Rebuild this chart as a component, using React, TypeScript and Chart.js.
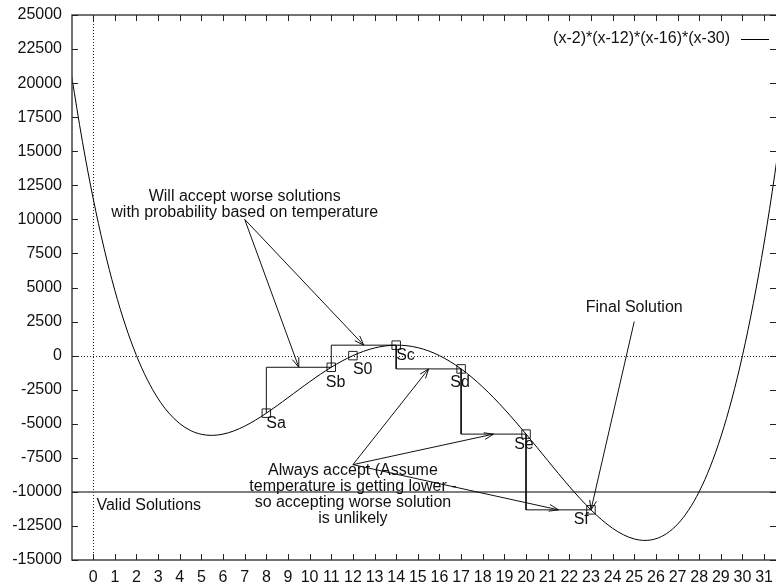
import React, { useEffect, useRef } from "react";
import { Chart, registerables } from "chart.js";

Chart.register(...registerables);

// ---- data ----
const curveX = [-1, -0.5, 0, 0.5, 1, 1.5, 2, 2.5, 3, 3.5, 4, 4.5, 5, 5.5, 6, 6.5, 7, 7.5, 8, 8.5, 9, 9.5, 10, 10.5, 11, 11.5, 12, 12.5, 13, 13.5, 14, 14.5, 15, 15.5, 16, 16.5, 17, 17.5, 18, 18.5, 19, 19.5, 20, 20.5, 21, 21.5, 22, 22.5, 23, 23.5, 24, 24.5, 25, 25.5, 26, 26.5, 27, 27.5, 28, 28.5, 29, 29.5, 30, 30.5, 31, 31.5, 32];
const curveY = [20553, 15726.6, 11520, 7887.6, 4785, 2169.6, 0, -1763.4, -3159, -4223.4, -4992, -5498.4, -5775, -5852.4, -5760, -5525.4, -5175, -4733.4, -4224, -3668.4, -3087, -2498.4, -1920, -1367.4, -855, -395.4, 0, 321.6, 561, 711.6, 768, 726.6, 585, 342.6, 0, -440.4, -975, -1598.4, -2304, -3083.4, -3927, -4823.4, -5760, -6722.4, -7695, -8660.4, -9600, -10493.4, -11319, -12053.4, -12672, -13148.4, -13455, -13562.4, -13440, -13055.4, -12375, -11363.4, -9984, -8198.4, -5967, -3248.4, 0, 3822.6, 8265, 13374.6, 19200];
const seriesLabel = "(x-2)*(x-12)*(x-16)*(x-30)";

const stateNames = ["Sa", "Sb", "S0", "Sc", "Sd", "Se", "Sf"];
const stateX = [8, 11, 12, 14, 17, 20, 23];
const stateY = [-4224, -855, 0, 768, -975, -5760, -11319];
const stateLabelX = [8, 10.75, 12, 14, 16.5, 19.45, 22.2];
const stateLabelY = [-5000, -2000, -1000, 0, -2000, -6500, -12000];

const moveFromX = [8, 11, 14, 17, 20];
const moveFromY = [-4224, -855, 768, -975, -5760];
const moveToX = [11, 14, 17, 20, 23];
const moveToY = [-855, 768, -975, -5760, -11319];

const arrowFromX = [7, 7, 12, 12, 12, 25];
const arrowFromY = [10000, 10000, -8000, -8000, -8000, 2500];
const arrowToX = [9.5, 12.5, 15.5, 18.5, 21.5, 23];
const arrowToY = [-855, 768, -975, -5760, -11319, -11319];

const noteWill = ["Will accept worse solutions", "with probability based on temperature"];
const noteWillPos = [7, 11100];
const noteAlways = ["Always accept (Assume", "temperature is getting lower -", "so accepting worse solution", "is unlikely"];
const noteAlwaysPos = [12, -10230];
const noteFinal = "Final Solution";
const noteFinalPos = [25, 3500];
const noteValid = "Valid Solutions";
const noteValidPos = [0.15, -11000];
const thresholdY = -10000;

const xMin = -0.98;
const xMax = 31.55;
const xStep = 1;
const yMin = -15000;
const yMax = 25000;
const yStep = 2500;

const FONT_FAMILY = '"Liberation Sans", Arial, Helvetica, sans-serif';
const FONT = "16px " + FONT_FAMILY;

function drawArrowHead(ctx: CanvasRenderingContext2D, x0: number, y0: number, x1: number, y1: number) {
  const ang = Math.atan2(y1 - y0, x1 - x0);
  const len = 10;
  const spread = (20 * Math.PI) / 180;
  ctx.beginPath();
  ctx.moveTo(x1 - len * Math.cos(ang - spread), y1 - len * Math.sin(ang - spread));
  ctx.lineTo(x1, y1);
  ctx.lineTo(x1 - len * Math.cos(ang + spread), y1 - len * Math.sin(ang + spread));
  ctx.stroke();
}

const underlay = {
  id: "underlay",
  beforeDatasetsDraw(chart: any) {
    const { ctx, chartArea: ca, scales } = chart;
    const px = (v: number) => scales.x.getPixelForValue(v);
    const py = (v: number) => scales.y.getPixelForValue(v);
    ctx.save();
    ctx.strokeStyle = "#222";
    ctx.lineWidth = 1;
    ctx.setLineDash([1, 2]);
    ctx.beginPath();
    const zx = Math.round(px(0)) + 0.5;
    const zy = Math.round(py(0)) + 0.5;
    ctx.moveTo(zx, ca.top);
    ctx.lineTo(zx, ca.bottom);
    ctx.moveTo(ca.left, zy);
    ctx.lineTo(ca.right, zy);
    ctx.stroke();
    ctx.setLineDash([]);
    // threshold line
    ctx.strokeStyle = "#555";
    ctx.lineWidth = 1.5;
    ctx.beginPath();
    ctx.moveTo(ca.left, py(thresholdY));
    ctx.lineTo(ca.right, py(thresholdY));
    ctx.stroke();
    ctx.restore();
  },
  afterDatasetsDraw(chart: any) {
    const { ctx, chartArea: ca, scales } = chart;
    const px = (v: number) => scales.x.getPixelForValue(v);
    const py = (v: number) => scales.y.getPixelForValue(v);
    ctx.save();
    // border
    ctx.strokeStyle = "#444";
    ctx.lineWidth = 1.5;
    ctx.beginPath();
    ctx.moveTo(ca.right, ca.top);
    ctx.lineTo(ca.left, ca.top);
    ctx.lineTo(ca.left, ca.bottom);
    ctx.lineTo(ca.right, ca.bottom);
    ctx.stroke();
    // ticks
    ctx.lineWidth = 1;
    ctx.strokeStyle = "#222";
    ctx.beginPath();
    const tl = 6;
    scales.x.ticks.forEach((t: any) => {
      const x = Math.round(px(t.value)) + 0.5;
      ctx.moveTo(x, ca.bottom);
      ctx.lineTo(x, ca.bottom - tl);
      ctx.moveTo(x, ca.top);
      ctx.lineTo(x, ca.top + tl);
    });
    scales.y.ticks.forEach((t: any) => {
      const y = Math.round(py(t.value)) + 0.5;
      ctx.moveTo(ca.left, y);
      ctx.lineTo(ca.left + tl, y);
      ctx.moveTo(ca.right, y);
      ctx.lineTo(ca.right - tl, y);
    });
    ctx.stroke();
    // arrows
    ctx.strokeStyle = "#111";
    ctx.lineWidth = 1;
    for (let i = 0; i < arrowFromX.length; i++) {
      const x0 = px(arrowFromX[i]), y0 = py(arrowFromY[i]);
      const x1 = px(arrowToX[i]), y1 = py(arrowToY[i]);
      ctx.beginPath();
      ctx.moveTo(x0, y0);
      ctx.lineTo(x1, y1);
      ctx.stroke();
      drawArrowHead(ctx, x0, y0, x1, y1);
    }
    // texts
    ctx.fillStyle = "#111";
    ctx.font = FONT;
    ctx.textBaseline = "middle";
    ctx.textAlign = "left";
    for (let i = 0; i < stateNames.length; i++) {
      ctx.fillText(stateNames[i], px(stateLabelX[i]), py(stateLabelY[i]));
    }
    ctx.fillText(noteValid, px(noteValidPos[0]), py(noteValidPos[1]));
    ctx.textAlign = "center";
    ctx.fillText(noteFinal, px(noteFinalPos[0]), py(noteFinalPos[1]));
    const lh = 16;
    const drawBlock = (lines: string[], pos: number[]) => {
      const cx = px(pos[0]);
      const cy = py(pos[1]);
      const n = lines.length;
      lines.forEach((s, k) => ctx.fillText(s, cx, cy + (k - (n - 1) / 2) * lh));
    };
    drawBlock(noteWill, noteWillPos);
    drawBlock(noteAlways, noteAlwaysPos);
    // legend
    ctx.textAlign = "right";
    const ly = ca.top + 24;
    ctx.fillText(seriesLabel, ca.right - 46, ly);
    ctx.strokeStyle = "#000";
    ctx.beginPath();
    ctx.moveTo(ca.right - 35, Math.round(ly) + 0.5);
    ctx.lineTo(ca.right - 7, Math.round(ly) + 0.5);
    ctx.stroke();
    ctx.restore();
  },
};

export default function App() {
  const ref = useRef<HTMLCanvasElement | null>(null);
  useEffect(() => {
    if (!ref.current) return;
    const curve = curveX.map((x, i) => ({ x, y: curveY[i] }));
    const steps = moveFromX.map((x, i) => ({
      type: "scatter" as const,
      label: "step" + i,
      data: [
        { x, y: moveFromY[i] },
        { x, y: moveToY[i] },
        { x: moveToX[i], y: moveToY[i] },
      ],
      showLine: true,
      borderColor: "#111",
      borderWidth: 1,
      pointRadius: 0,
      tension: 0,
    }));
    const chart = new Chart(ref.current, {
      type: "scatter",
      data: {
        datasets: [
          {
            label: seriesLabel,
            data: curve,
            showLine: true,
            borderColor: "#000",
            borderWidth: 1,
            pointRadius: 0,
            tension: 0.35,
          },
          ...steps,
          {
            label: "states",
            data: stateX.map((x, i) => ({ x, y: stateY[i] })),
            showLine: false,
            pointStyle: "rect",
            pointRadius: 6,
            borderColor: "#222",
            borderWidth: 1,
            backgroundColor: "rgba(0,0,0,0)",
          },
        ],
      },
      options: {
        animation: false,
        responsive: false,
        devicePixelRatio: 1,
        layout: { padding: { top: 15, right: 0, left: 0, bottom: 0 } },
        plugins: { legend: { display: false }, tooltip: { enabled: false } },
        scales: {
          x: {
            type: "linear",
            min: xMin,
            max: xMax,
            grid: { display: false, drawTicks: false },
            border: { display: false },
            ticks: {
              stepSize: xStep,
              includeBounds: false,
              maxTicksLimit: 100,
              autoSkip: false,
              maxRotation: 0,
              minRotation: 0,
              padding: 8,
              color: "#111",
              font: { family: FONT_FAMILY, size: 16 },
              callback: (v: any) => String(v),
            },
            afterFit: (s: any) => {
              s.height = 25;
              s.paddingLeft = 0;
              s.paddingRight = 0;
            },
          },
          y: {
            type: "linear",
            min: yMin,
            max: yMax,
            grid: { display: false, drawTicks: false },
            border: { display: false },
            ticks: {
              stepSize: yStep,
              includeBounds: false,
              maxTicksLimit: 100,
              autoSkip: false,
              padding: 10,
              color: "#111",
              font: { family: FONT_FAMILY, size: 16 },
              callback: (v: any) => String(v),
            },
            afterFit: (s: any) => {
              s.width = 72;
              s.paddingTop = 0;
              s.paddingBottom = 0;
            },
          },
        },
      },
      plugins: [underlay],
    } as any);
    return () => chart.destroy();
  }, []);
  return (
    <div style={{ position: "absolute", left: 0, top: 0, width: 783, height: 585, background: "#fff" }}>
      <canvas ref={ref} width={783} height={585} style={{ width: 783, height: 585, display: "block" }} />
    </div>
  );
}
